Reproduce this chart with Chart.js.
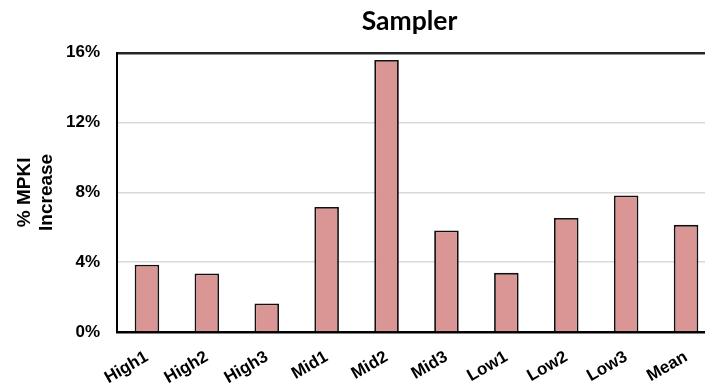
<!DOCTYPE html>
<html>
<head>
<meta charset="utf-8">
<script src="https://cdn.jsdelivr.net/npm/chart.js@4"></script>
<style>
  html, body { margin: 0; padding: 0; background: #fff; overflow: hidden; }
  #wrap { width: 716px; height: 390px; }
</style>
</head>
<body>
<div id="wrap"><canvas id="chart" width="716" height="390"></canvas></div>
<script>
  // workload groups and the MPKI increase for each (percent)
  const categories = ['High1', 'High2', 'High3', 'Mid1', 'Mid2', 'Mid3', 'Low1', 'Low2', 'Low3', 'Mean'];
  const mpkiIncrease = [3.85, 3.35, 1.64, 7.16, 15.59, 5.82, 3.39, 6.54, 7.82, 6.14];
  const yTicks = [0, 4, 8, 12, 16];

  const barFill = '#d99694';
  const axisFont = { family: '"Liberation Sans", Arial, sans-serif', weight: 'bold', size: 17 };

  const canvas = document.getElementById('chart');

  // nudge the title a little left of the plot centre
  const titleShift = {
    id: 'titleShift',
    afterLayout(chart) {
      if (chart.titleBlock) {
        chart.titleBlock.left -= 14;
      }
    },
  };

  const chart = new Chart(canvas, {
    type: 'bar',
    data: {
      labels: categories,
      datasets: [{
        label: 'Sampler',
        data: mpkiIncrease,
        backgroundColor: barFill,
        borderColor: '#111',
        borderWidth: 1.8,
        borderSkipped: 'bottom',
        categoryPercentage: 1,
        barPercentage: 0.41,
      }],
    },
    options: {
      responsive: false,
      animation: false,
      devicePixelRatio: 1,
      layout: { padding: { top: 0, right: 0, bottom: 0, left: 0 } },
      plugins: {
        legend: { display: false },
        tooltip: { enabled: false },
        title: {
          display: true,
          text: 'Sampler',
          fullSize: false,
          color: '#000',
          font: { family: 'Lato, "Open Sans", sans-serif', weight: 'bold', size: 26.5, lineHeight: 1.2 },
          padding: { top: 6, bottom: 15 },
        },
      },
      scales: {
        x: {
          grid: { display: false, drawTicks: false },
          border: { display: true, color: '#000', width: 2.5 },
          ticks: {
            color: '#000',
            font: axisFont,
            minRotation: 30,
            maxRotation: 30,
            padding: 15,
          },
          afterFit: (scale) => { scale.height = 58; },
        },
        y: {
          min: 0,
          max: 16,
          afterBuildTicks: (scale) => { scale.ticks = yTicks.map(v => ({ value: v })); },
          grid: {
            drawTicks: false,
            color: (ctx) => ctx.tick && ctx.tick.value === 16 ? '#262626' : '#d9d9d9',
            lineWidth: (ctx) => ctx.tick && ctx.tick.value === 16 ? 2.5 : 1.5,
          },
          border: { display: true, color: '#000', width: 2 },
          ticks: {
            color: '#000',
            font: axisFont,
            padding: 17,
            callback: (v) => v + '%',
          },
          title: {
            display: true,
            text: ['% MPKI', 'Increase'],
            color: '#000',
            font: { family: '"Liberation Sans", Arial, sans-serif', weight: 'bold', size: 19, lineHeight: 1.15 },
            padding: { top: 14, bottom: 0 },
          },
          afterFit: (scale) => { scale.width = 117; },
        },
      },
    },
    plugins: [titleShift],
  });
</script>
</body>
</html>
